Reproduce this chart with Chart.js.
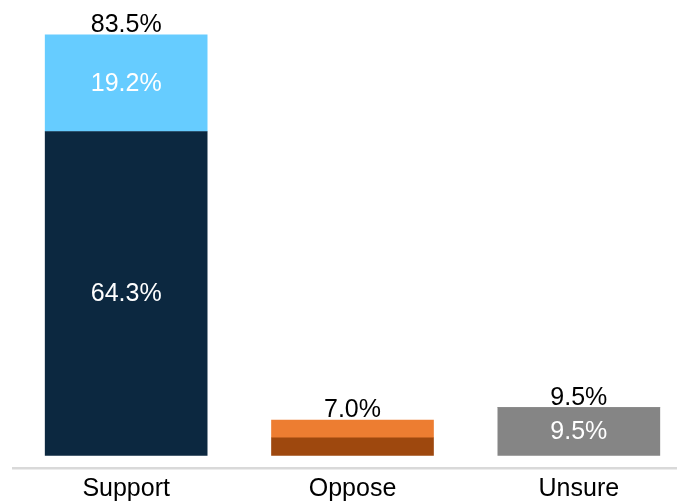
<!DOCTYPE html>
<html>
<head>
<meta charset="utf-8">
<script src="https://cdn.jsdelivr.net/npm/chart.js@4/dist/chart.umd.min.js"></script>
<style>
  html, body { margin: 0; padding: 0; background: #fff; overflow: hidden; }
  .c-chart { position: relative; width: 692px; height: 510px; }
</style>
</head>
<body>
<div class="c-chart"><canvas id="poll-chart"></canvas></div>
<script>
const categories = ["Support", "Oppose", "Unsure"];
const baseValues = [64.3, 3.5, 9.5];
const topValues = [19.2, 3.5, 0];
const totals = [83.5, 7.0, 9.5];

const baseColors = ["#0C2840", "#9E480E", "#858585"];
const topColors = ["#66CCFF", "#ED7D31", "#858585"];
const fontFamily = "'Liberation Sans', Arial, sans-serif";

const fmt = (v) => v.toFixed(1) + "%";

const barLabels = {
  id: "barLabels",
  afterDatasetsDraw(chart) {
    const ctx = chart.ctx;
    ctx.save();
    ctx.font = "25px " + fontFamily;
    ctx.textAlign = "center";

    // values inside the segments, only where there is room
    chart.data.datasets.forEach((ds, di) => {
      const meta = chart.getDatasetMeta(di);
      meta.data.forEach((bar, i) => {
        const value = ds.data[i];
        if (!value || Math.abs(bar.base - bar.y) < 30) {
          return;
        }
        ctx.fillStyle = "#FFFFFF";
        ctx.textBaseline = "middle";
        ctx.fillText(fmt(value), bar.x, (bar.y + bar.base) / 2 + 1);
      });
    });

    // totals above each stack
    const yScale = chart.scales.y;
    const xScale = chart.scales.x;
    totals.forEach((total, i) => {
      ctx.fillStyle = "#000000";
      ctx.textBaseline = "alphabetic";
      ctx.fillText(fmt(total), xScale.getPixelForValue(i), yScale.getPixelForValue(total) - 3);
    });
    ctx.restore();
  },
};

const ctx = document.getElementById("poll-chart");
const chart = new Chart(ctx, {
  type: "bar",
  data: {
    labels: categories,
    datasets: [
      {
        label: "Base",
        data: baseValues,
        backgroundColor: baseColors,
        barThickness: 162,
      },
      {
        label: "Top",
        data: topValues,
        backgroundColor: topColors,
        barThickness: 162,
      },
    ],
  },
  options: {
    responsive: true,
    maintainAspectRatio: false,
    animation: false,
    layout: {
      padding: { left: 13, top: 2, right: 0, bottom: 0 },
    },
    plugins: {
      legend: { display: false },
      tooltip: { enabled: false },
    },
    scales: {
      x: {
        stacked: true,
        grid: { display: false, drawTicks: false },
        border: { display: true, color: "#D9D9D9", width: 2.5 },
        ticks: {
          color: "#000000",
          padding: 6,
          font: { family: fontFamily, size: 25 },
        },
      },
      y: {
        stacked: true,
        display: false,
        min: -2.5,
        max: 90,
      },
    },
  },
  plugins: [barLabels],
});
</script>
</body>
</html>
